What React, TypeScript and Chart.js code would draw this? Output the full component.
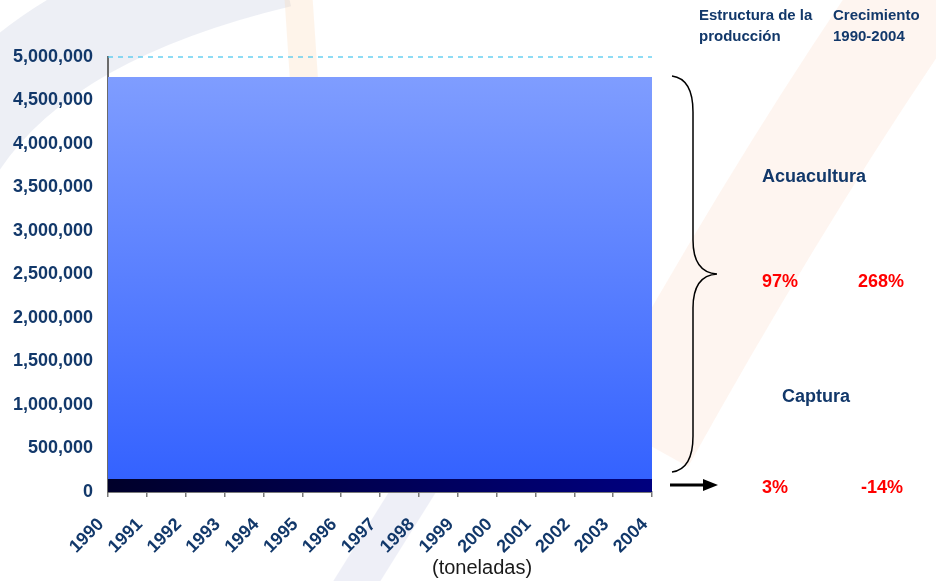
import React, { useEffect, useRef } from 'react';
import { Chart, registerables } from 'chart.js';

Chart.register(...registerables);

// ---- Data ----
const years = ['1990', '1991', '1992', '1993', '1994', '1995', '1996', '1997', '1998', '1999', '2000', '2001', '2002', '2003', '2004'];
const captura = [150000, 150000, 150000, 150000, 150000, 150000, 150000, 150000, 150000, 150000, 150000, 150000, 150000, 150000, 150000];
const acuacultura = [4620000, 4620000, 4620000, 4620000, 4620000, 4620000, 4620000, 4620000, 4620000, 4620000, 4620000, 4620000, 4620000, 4620000, 4620000];
const yMin = 0;
const yMax = 5000000;
const yStep = 500000;

const headerStructure = ['Estructura de la', 'producción'];
const headerGrowth = ['Crecimiento', '1990-2004'];
const seriesNames = ['Acuacultura', 'Captura'];
const structureValues = ['97%', '3%'];
const growthValues = ['268%', '-14%'];
const unitLabel = '(toneladas)';

const FONT = "'Liberation Sans', Arial, sans-serif";
const NAVY = '#12386a';
const RED = '#ff0000';

const backgroundPlugin = {
  id: 'bgWatermark',
  beforeDraw(chart: any) {
    const ctx = chart.ctx as CanvasRenderingContext2D;
    ctx.save();
    ctx.fillStyle = '#ffffff';
    ctx.fillRect(0, 0, chart.width, chart.height);
    ctx.lineCap = 'butt';
    // gray swoosh top-left
    ctx.strokeStyle = 'rgba(208,212,230,0.38)';
    ctx.lineWidth = 95;
    ctx.beginPath();
    ctx.moveTo(-50, 160);
    ctx.quadraticCurveTo(30, 20, 280, -40);
    ctx.stroke();
    // gray stripe bottom
    ctx.strokeStyle = 'rgba(212,216,234,0.4)';
    ctx.lineWidth = 40;
    ctx.beginPath();
    ctx.moveTo(345, 600);
    ctx.lineTo(445, 440);
    ctx.stroke();
    // orange top stripe
    ctx.strokeStyle = 'rgba(250,210,170,0.25)';
    ctx.lineWidth = 28;
    ctx.beginPath();
    ctx.moveTo(298, -10);
    ctx.lineTo(304, 80);
    ctx.stroke();
    // pink swoosh right
    ctx.strokeStyle = 'rgba(252,222,205,0.3)';
    ctx.lineWidth = 110;
    ctx.beginPath();
    ctx.moveTo(930, -30);
    ctx.quadraticCurveTo(790, 170, 640, 440);
    ctx.stroke();
    ctx.restore();
  },
};

const topLinePlugin = {
  id: 'topDashedLine',
  beforeDatasetsDraw(chart: any) {
    const ctx = chart.ctx as CanvasRenderingContext2D;
    const y = chart.scales.y.getPixelForValue(yMax);
    const { left, right } = chart.chartArea;
    ctx.save();
    ctx.strokeStyle = '#45c6ee';
    ctx.lineWidth = 1.2;
    ctx.setLineDash([5, 5]);
    ctx.beginPath();
    ctx.moveTo(left, y);
    ctx.lineTo(right, y);
    ctx.stroke();
    ctx.restore();
  },
};

const annotationPlugin = {
  id: 'sideAnnotations',
  afterDraw(chart: any) {
    const ctx = chart.ctx as CanvasRenderingContext2D;
    ctx.save();
    ctx.textBaseline = 'alphabetic';
    ctx.textAlign = 'left';

    // headers
    ctx.fillStyle = NAVY;
    ctx.font = `bold 15px ${FONT}`;
    ctx.fillText(headerStructure[0], 699, 20);
    ctx.fillText(headerStructure[1], 699, 41);
    ctx.fillText(headerGrowth[0], 833, 20);
    ctx.fillText(headerGrowth[1], 833, 41);

    // series names
    ctx.font = `bold 18px ${FONT}`;
    ctx.fillText(seriesNames[0], 762, 182);
    ctx.fillText(seriesNames[1], 782, 402);

    // values
    ctx.fillStyle = RED;
    ctx.fillText(structureValues[0], 762, 287);
    ctx.fillText(growthValues[0], 858, 287);
    ctx.fillText(structureValues[1], 762, 493);
    ctx.fillText(growthValues[1], 861, 493);

    // unit label
    ctx.fillStyle = '#1a1a1a';
    ctx.font = `20px ${FONT}`;
    ctx.fillText(unitLabel, 432, 574);

    // brace
    ctx.strokeStyle = '#000000';
    ctx.lineWidth = 1.5;
    ctx.beginPath();
    ctx.moveTo(672, 76);
    ctx.bezierCurveTo(687, 78, 693, 92, 693, 112);
    ctx.lineTo(693, 240);
    ctx.bezierCurveTo(693, 262, 701, 273, 717, 274);
    ctx.bezierCurveTo(701, 275, 693, 286, 693, 308);
    ctx.lineTo(693, 436);
    ctx.bezierCurveTo(693, 456, 687, 470, 672, 472);
    ctx.stroke();

    // arrow
    ctx.lineWidth = 3;
    ctx.beginPath();
    ctx.moveTo(670, 485);
    ctx.lineTo(706, 485);
    ctx.stroke();
    ctx.fillStyle = '#000000';
    ctx.beginPath();
    ctx.moveTo(703, 479);
    ctx.lineTo(718, 485);
    ctx.lineTo(703, 491);
    ctx.closePath();
    ctx.fill();

    ctx.restore();
  },
};

export default function App() {
  const canvasRef = useRef<HTMLCanvasElement>(null);

  useEffect(() => {
    const canvas = canvasRef.current;
    if (!canvas) return;
    const chart = new Chart(canvas, {
      type: 'line',
      data: {
        labels: years,
        datasets: [
          {
            label: seriesNames[1],
            data: captura,
            fill: 'origin',
            borderWidth: 0,
            pointRadius: 0,
            tension: 0,
            backgroundColor: (c: any) => {
              const ca = c.chart.chartArea;
              if (!ca) return '#000060';
              const g = c.chart.ctx.createLinearGradient(ca.left, 0, ca.right, 0);
              g.addColorStop(0, '#00002a');
              g.addColorStop(1, '#00007f');
              return g;
            },
          },
          {
            label: seriesNames[0],
            data: acuacultura,
            fill: '-1',
            borderWidth: 0,
            pointRadius: 0,
            tension: 0,
            backgroundColor: (c: any) => {
              const ca = c.chart.chartArea;
              const ys = c.chart.scales?.y;
              if (!ca || !ys) return '#5577ff';
              const top = ys.getPixelForValue(captura[0] + acuacultura[0]);
              const bottom = ys.getPixelForValue(captura[0]);
              const g = c.chart.ctx.createLinearGradient(0, top, 0, bottom);
              g.addColorStop(0, '#7f9dff');
              g.addColorStop(1, '#3462ff');
              return g;
            },
          },
        ],
      },
      options: {
        animation: false,
        responsive: false,
        layout: { padding: { top: 57, right: 284, bottom: 0, left: 0 } },
        plugins: {
          legend: { display: false },
          tooltip: { enabled: false },
        },
        scales: {
          x: {
            offset: false,
            grid: {
              display: true,
              drawOnChartArea: false,
              drawTicks: true,
              tickLength: 5,
              color: '#7a7a7a',
              lineWidth: 1.5,
            },
            border: { display: true, color: '#7a7a7a', width: 2 },
            ticks: {
              autoSkip: false,
              minRotation: 45,
              maxRotation: 45,
              padding: 17,
              labelOffset: -7,
              color: NAVY,
              font: { family: FONT, size: 18, weight: 'bold' },
            },
            afterFit: (s: any) => {
              s.height = 89;
            },
          },
          y: {
            stacked: true,
            min: yMin,
            max: yMax,
            grid: { display: false, drawTicks: false },
            border: { display: true, color: '#6b6b6b', width: 2 },
            ticks: {
              stepSize: yStep,
              padding: 15,
              color: NAVY,
              font: { family: FONT, size: 18, weight: 'bold' },
              callback: (v: any) => Number(v).toLocaleString('en-US'),
            },
            afterFit: (s: any) => {
              s.width = 108;
            },
          },
        },
      } as any,
      plugins: [backgroundPlugin, topLinePlugin, annotationPlugin],
    });
    return () => chart.destroy();
  }, []);

  return (
    <div style={{ position: 'absolute', left: 0, top: 0, width: 936, height: 581 }}>
      <canvas ref={canvasRef} width={936} height={581} style={{ width: 936, height: 581, display: 'block' }} />
    </div>
  );
}
